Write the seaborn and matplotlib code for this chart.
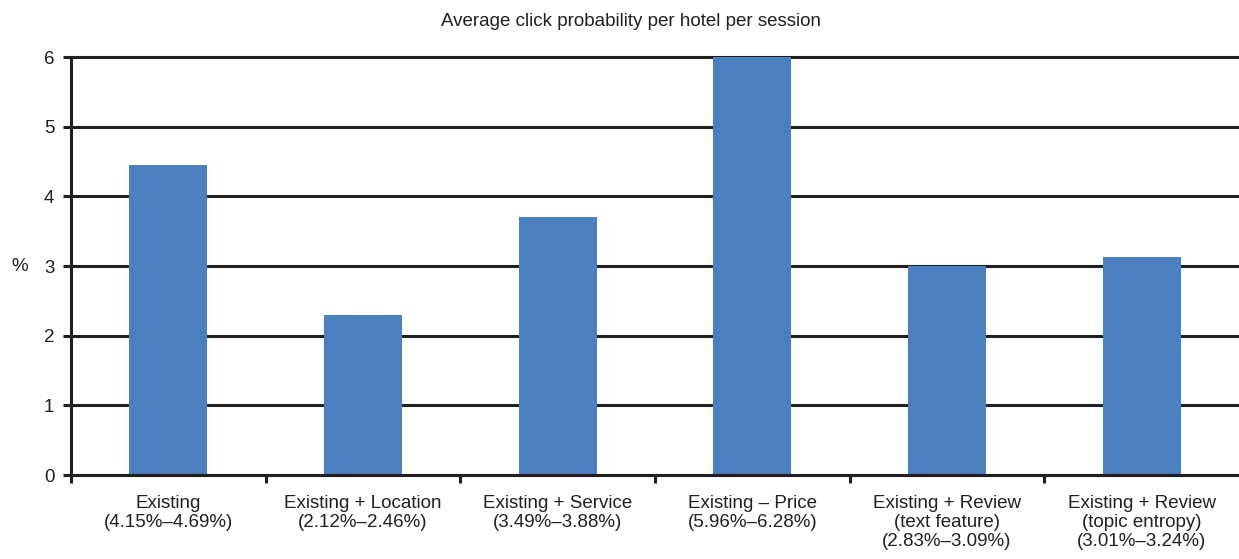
import matplotlib
matplotlib.use("Agg")
import matplotlib.pyplot as plt
import seaborn as sns
import pandas as pd
from matplotlib.ticker import FixedLocator

categories = [
    "Existing\n(4.15%–4.69%)",
    "Existing + Location\n(2.12%–2.46%)",
    "Existing + Service\n(3.49%–3.88%)",
    "Existing – Price\n(5.96%–6.28%)",
    "Existing + Review\n(text feature)\n(2.83%–3.09%)",
    "Existing + Review\n(topic entropy)\n(3.01%–3.24%)",
]
values = [4.45, 2.30, 3.70, 6.12, 3.00, 3.13]
yticks = [0, 1, 2, 3, 4, 5, 6]
title = "Average click probability per hotel per session"

sns.set_theme(style="white")
plt.rcParams["font.family"] = ["Liberation Sans", "DejaVu Sans"]

df = pd.DataFrame({"model": categories, "prob": values})

fig = plt.figure(figsize=(12.39, 5.59), dpi=100)
ax = fig.add_axes([0.0573, 0.150, 0.9427, 0.748])

sns.barplot(data=df, x="model", y="prob", color="#4a80c0", width=0.4,
            saturation=1, linewidth=0, ax=ax, zorder=3)

ax.set_ylim(0, 6)
ax.set_xlim(-0.5, len(categories) - 0.5)
ax.set_yticks(yticks)
for y in yticks:
    ax.axhline(y, color="#231f20", lw=2.2, zorder=2, clip_on=False)

ax.set_xlabel("")
ax.set_ylabel("%", rotation=0, fontsize=13.5, color="#231f20", va="center", ha="center")
ax.yaxis.set_label_coords(-0.0435, 0.5)

for side in ["top", "right"]:
    ax.spines[side].set_visible(False)
for side in ["left", "bottom"]:
    ax.spines[side].set_color("#231f20")
    ax.spines[side].set_linewidth(2.2)
    ax.spines[side].set_zorder(4)

ax.tick_params(axis="y", which="major", left=True, length=6, width=2.2,
               color="#231f20", labelsize=13.5, labelcolor="#231f20", pad=6)
ax.tick_params(axis="x", which="major", bottom=False, labelsize=13.5,
               labelcolor="#231f20", pad=8)
ax.xaxis.set_minor_locator(FixedLocator([i - 0.5 for i in range(len(categories))]))
ax.tick_params(axis="x", which="minor", bottom=True, direction="out", length=6,
               width=2.2, color="#231f20")
for lbl in ax.get_xticklabels():
    lbl.set_linespacing(1.17)

fig.text(0.509, 0.962, title, ha="center", va="center", fontsize=13.5, color="#231f20")

fig.savefig("out.png", dpi=100)
